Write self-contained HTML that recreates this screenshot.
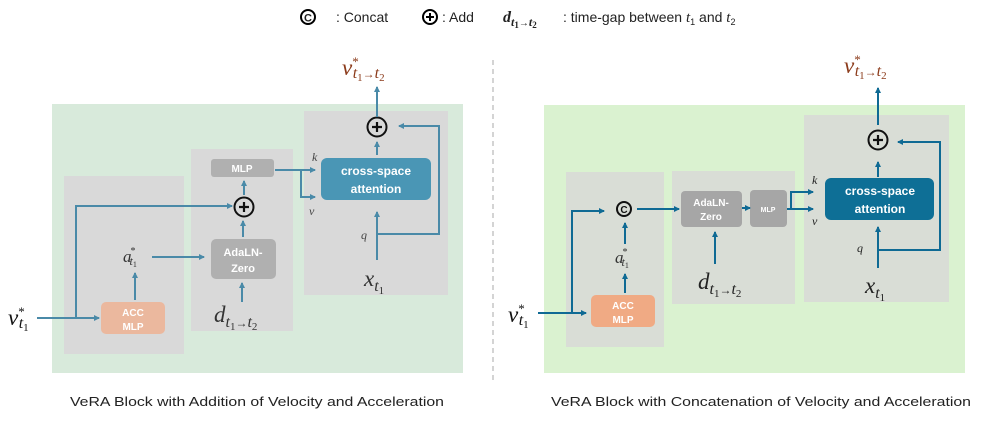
<!DOCTYPE html>
<html><head><meta charset="utf-8"><style>
html,body{margin:0;padding:0;background:#fff;width:997px;height:443px;overflow:hidden}
svg{display:block}
.s{font-family:"Liberation Sans",sans-serif}
.m{font-family:"Liberation Serif",serif;font-style:italic}
.n{font-style:normal}
</style></head><body>
<svg width="997" height="443" viewBox="0 0 997 443" xmlns="http://www.w3.org/2000/svg">
<defs>
<marker id="a1" markerWidth="6" markerHeight="6" refX="5" refY="3" orient="auto" markerUnits="userSpaceOnUse"><path d="M0,0 L6,3 L0,6 z" fill="#4a8aa8"/></marker>
<marker id="a2" markerWidth="6" markerHeight="6" refX="5" refY="3" orient="auto" markerUnits="userSpaceOnUse"><path d="M0,0 L6,3 L0,6 z" fill="#0f6a94"/></marker>
</defs>
<g class="s" font-size="14" fill="#222">
<circle cx="308" cy="17" r="7" fill="none" stroke="#000" stroke-width="2"/><text x="308" y="21.5" font-size="11" font-weight="bold" text-anchor="middle">C</text>
<text x="336" y="22">: Concat</text>
<circle cx="430" cy="17" r="7" fill="none" stroke="#000" stroke-width="2"/><path d="M426,17h8M430,13v8" stroke="#000" stroke-width="2"/>
<text x="442" y="22">: Add</text>
<text x="503" y="22" class="m" font-weight="bold" font-size="16">d<tspan font-size="12" dy="4">t</tspan><tspan font-size="9" class="n" dy="2">1</tspan><tspan font-size="10" class="n" dy="-2">→</tspan><tspan font-size="12">t</tspan><tspan font-size="9" class="n" dy="2">2</tspan></text>
<text x="563" y="22">: time-gap between <tspan class="m" font-size="15">t</tspan><tspan font-size="9" dy="3">1</tspan><tspan dy="-3"> and </tspan><tspan class="m" font-size="15">t</tspan><tspan font-size="9" dy="3">2</tspan></text>
</g>
<line x1="493" y1="60" x2="493" y2="380" stroke="#aaa" stroke-dasharray="5,4"/>

<!-- LEFT -->
<rect x="52" y="104" width="411" height="269" fill="#d8eadb"/>
<rect x="64" y="176" width="120" height="178" fill="#d9d9d9"/>
<rect x="191" y="149" width="102" height="182" fill="#d9d9d9"/>
<rect x="304" y="111" width="144" height="184" fill="#d9d9d9"/>
<rect x="211" y="159" width="63" height="18" rx="3" fill="#b0b0b0"/>
<text x="242" y="172" class="s" font-size="10" font-weight="bold" fill="#fff" text-anchor="middle">MLP</text>
<rect x="321" y="158" width="110" height="42" rx="6" fill="#4a96b5"/>
<text x="376" y="175" class="s" font-size="12" font-weight="bold" fill="#fff" text-anchor="middle">cross-space</text>
<text x="376" y="193" class="s" font-size="12" font-weight="bold" fill="#fff" text-anchor="middle">attention</text>
<rect x="211" y="239" width="65" height="40" rx="5" fill="#b0b0b0"/>
<text x="243" y="256" class="s" font-size="11" font-weight="bold" fill="#fff" text-anchor="middle">AdaLN-</text>
<text x="243" y="272" class="s" font-size="11" font-weight="bold" fill="#fff" text-anchor="middle">Zero</text>
<rect x="101" y="302" width="64" height="32" rx="5" fill="#ebb89e"/>
<text x="133" y="316" class="s" font-size="10" font-weight="bold" fill="#fff" text-anchor="middle">ACC</text>
<text x="133" y="330" class="s" font-size="10" font-weight="bold" fill="#fff" text-anchor="middle">MLP</text>
<circle cx="377" cy="127" r="9.5" fill="none" stroke="#111" stroke-width="2"/><path d="M372,127h10M377,122v10" stroke="#111" stroke-width="2.2"/>
<circle cx="244" cy="207" r="9.5" fill="none" stroke="#111" stroke-width="2"/><path d="M239,207h10M244,202v10" stroke="#111" stroke-width="2.2"/>
<g stroke="#4a8aa8" stroke-width="2" fill="none">
<path d="M37,318H99" marker-end="url(#a1)"/>
<path d="M76,318V206H232" marker-end="url(#a1)"/>
<path d="M135,300V273" marker-end="url(#a1)"/>
<path d="M152,257H204" marker-end="url(#a1)"/>
<path d="M243,237V221" marker-end="url(#a1)"/>
<path d="M244,195V181" marker-end="url(#a1)"/>
<path d="M242,302V283" marker-end="url(#a1)"/>
<path d="M275,170H315" marker-end="url(#a1)"/>
<path d="M301,170V197H315" marker-end="url(#a1)"/>
<path d="M377,260V212" marker-end="url(#a1)"/>
<path d="M377,234H439V126H399" marker-end="url(#a1)"/>
<path d="M377,155V142" marker-end="url(#a1)"/>
<path d="M377,117V87" marker-end="url(#a1)"/>
</g>
<g class="m" fill="#444">
<text x="312" y="161" font-size="12">k</text>
<text x="309" y="215" font-size="12">v</text>
<text x="361" y="239" font-size="12">q</text>
</g>
<text x="123" y="262" class="m" font-size="17" fill="#333">a<tspan font-size="10" class="n" dy="-8" dx="-1">*</tspan><tspan font-size="12" dy="11" dx="-6">t</tspan><tspan font-size="8" class="n" dy="2">1</tspan></text>
<text x="214" y="322" class="m" font-size="23" fill="#333">d<tspan font-size="16" dy="5">t</tspan><tspan font-size="11" class="n" dy="3">1</tspan><tspan font-size="12" class="n" dy="-3">→</tspan><tspan font-size="16">t</tspan><tspan font-size="11" class="n" dy="3">2</tspan></text>
<text x="364" y="286" class="m" font-size="23" fill="#333">x<tspan font-size="16" dy="5">t</tspan><tspan font-size="11" class="n" dy="3">1</tspan></text>
<text x="342" y="75" class="m" font-size="23" fill="#8b3a1a">v<tspan font-size="13" class="n" dy="-9">*</tspan><tspan font-size="16" dy="12" dx="-6">t</tspan><tspan font-size="11" class="n" dy="3">1</tspan><tspan font-size="12" class="n" dy="-3">→</tspan><tspan font-size="16">t</tspan><tspan font-size="11" class="n" dy="3">2</tspan></text>
<text x="8" y="325" class="m" font-size="23" fill="#111">v<tspan font-size="13" class="n" dy="-9">*</tspan><tspan font-size="16" dy="12" dx="-6">t</tspan><tspan font-size="11" class="n" dy="3">1</tspan></text>
<text x="257" y="406" class="s" font-size="13" fill="#222" text-anchor="middle" textLength="374" lengthAdjust="spacingAndGlyphs">VeRA Block with Addition of Velocity and Acceleration</text>

<!-- RIGHT -->
<rect x="544" y="105" width="421" height="268" fill="#daf2d0"/>
<rect x="566" y="172" width="98" height="175" fill="#d9ddd6"/>
<rect x="672" y="171" width="123" height="133" fill="#d9ddd6"/>
<rect x="804" y="115" width="145" height="187" fill="#d9ddd6"/>
<rect x="681" y="191" width="61" height="36" rx="4" fill="#a6a6a6"/>
<text x="711" y="206" class="s" font-size="10" font-weight="bold" fill="#fff" text-anchor="middle">AdaLN-</text>
<text x="711" y="220" class="s" font-size="10" font-weight="bold" fill="#fff" text-anchor="middle">Zero</text>
<rect x="750" y="190" width="37" height="37" rx="4" fill="#a6a6a6"/>
<text x="768" y="212" class="s" font-size="7" font-weight="bold" fill="#fff" text-anchor="middle">MLP</text>
<rect x="825" y="178" width="109" height="42" rx="6" fill="#0e6f96"/>
<text x="880" y="195" class="s" font-size="12" font-weight="bold" fill="#fff" text-anchor="middle">cross-space</text>
<text x="880" y="213" class="s" font-size="12" font-weight="bold" fill="#fff" text-anchor="middle">attention</text>
<rect x="591" y="295" width="64" height="32" rx="5" fill="#f0aa84"/>
<text x="623" y="309" class="s" font-size="10" font-weight="bold" fill="#fff" text-anchor="middle">ACC</text>
<text x="623" y="323" class="s" font-size="10" font-weight="bold" fill="#fff" text-anchor="middle">MLP</text>
<circle cx="878" cy="140" r="9.5" fill="none" stroke="#111" stroke-width="2"/><path d="M873,140h10M878,135v10" stroke="#111" stroke-width="2.2"/>
<circle cx="624" cy="209" r="7" fill="none" stroke="#111" stroke-width="2"/><text x="624" y="213" class="s" font-size="10" font-weight="bold" text-anchor="middle" fill="#111">C</text>
<g stroke="#0f6a94" stroke-width="2" fill="none">
<path d="M538,313H586" marker-end="url(#a2)"/>
<path d="M572,313V211H604" marker-end="url(#a2)"/>
<path d="M625,293V274" marker-end="url(#a2)"/>
<path d="M625,244V223" marker-end="url(#a2)"/>
<path d="M637,209H679" marker-end="url(#a2)"/>
<path d="M742,208H750" marker-end="url(#a2)"/>
<path d="M787,209H813" marker-end="url(#a2)"/>
<path d="M791,209V192H813" marker-end="url(#a2)"/>
<path d="M715,264V232" marker-end="url(#a2)"/>
<path d="M878,268V227" marker-end="url(#a2)"/>
<path d="M878,250H940V142H898" marker-end="url(#a2)"/>
<path d="M878,177V162" marker-end="url(#a2)"/>
<path d="M878,125V88" marker-end="url(#a2)"/>
</g>
<g class="m" fill="#222">
<text x="812" y="184" font-size="12">k</text>
<text x="812" y="225" font-size="12">v</text>
<text x="857" y="252" font-size="12">q</text>
</g>
<text x="615" y="263" class="m" font-size="17" fill="#333">a<tspan font-size="10" class="n" dy="-8" dx="-1">*</tspan><tspan font-size="12" dy="11" dx="-6">t</tspan><tspan font-size="8" class="n" dy="2">1</tspan></text>
<text x="698" y="289" class="m" font-size="23" fill="#222">d<tspan font-size="16" dy="5">t</tspan><tspan font-size="11" class="n" dy="3">1</tspan><tspan font-size="12" class="n" dy="-3">→</tspan><tspan font-size="16">t</tspan><tspan font-size="11" class="n" dy="3">2</tspan></text>
<text x="865" y="293" class="m" font-size="23" fill="#222">x<tspan font-size="16" dy="5">t</tspan><tspan font-size="11" class="n" dy="3">1</tspan></text>
<text x="844" y="73" class="m" font-size="23" fill="#8b3a1a">v<tspan font-size="13" class="n" dy="-9">*</tspan><tspan font-size="16" dy="12" dx="-6">t</tspan><tspan font-size="11" class="n" dy="3">1</tspan><tspan font-size="12" class="n" dy="-3">→</tspan><tspan font-size="16">t</tspan><tspan font-size="11" class="n" dy="3">2</tspan></text>
<text x="508" y="322" class="m" font-size="23" fill="#111">v<tspan font-size="13" class="n" dy="-9">*</tspan><tspan font-size="16" dy="12" dx="-6">t</tspan><tspan font-size="11" class="n" dy="3">1</tspan></text>
<text x="761" y="406" class="s" font-size="13" fill="#222" text-anchor="middle" textLength="420" lengthAdjust="spacingAndGlyphs">VeRA Block with Concatenation of Velocity and Acceleration</text>
</svg>
</body></html>
